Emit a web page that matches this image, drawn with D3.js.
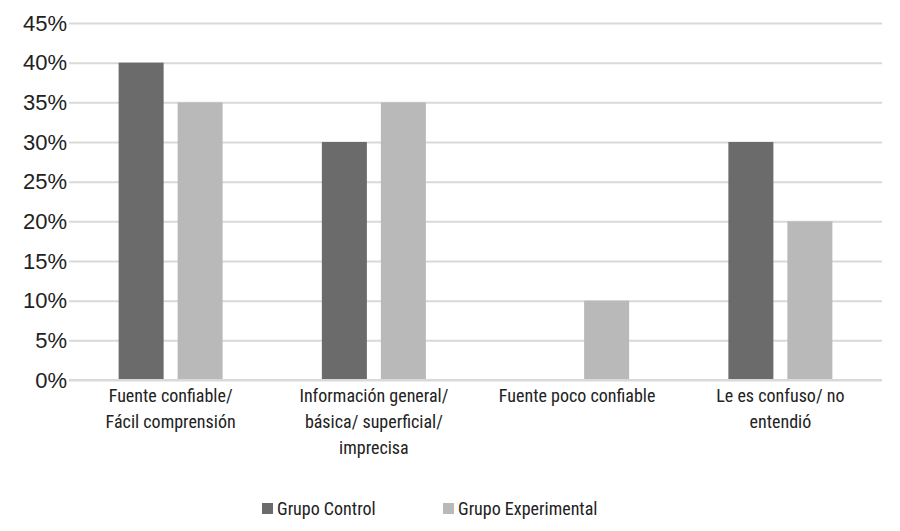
<!DOCTYPE html>
<html><head><meta charset="utf-8">
<script src="https://cdn.jsdelivr.net/npm/d3@7"></script>
<style>
body{margin:0;background:#fff}
text{font-family:"Liberation Sans Narrow","Roboto Condensed","Liberation Sans",sans-serif;fill:#222}
</style></head><body>
<svg id="c" width="900" height="531"></svg>
<script>
// chart values
const categories = [
  ["Fuente confiable/", "Fácil comprensión"],
  ["Información general/", "básica/ superficial/", "imprecisa"],
  ["Fuente poco confiable"],
  ["Le es confuso/ no", "entendió"]
];
const series = ["Grupo Control", "Grupo Experimental"];
const control = [40, 30, 0, 30];
const experimental = [35, 35, 10, 20];
const ticks = [0, 5, 10, 15, 20, 25, 30, 35, 40, 45];
const colors = ["#6b6b6b", "#b9b9b9"];

const svg = d3.select("#c");
const catIds = categories.map((c, i) => i);
const x0 = d3.scaleBand().domain(catIds).range([69, 882]);
const x1 = d3.scaleBand().domain(series).range([-52, 52]).paddingInner(0.237);
const y = d3.scaleLinear().domain([0, 45]).range([380, 23]);

// gridlines + tick labels
const yAxis = svg.append("g").attr("transform", "translate(69,0)")
  .call(d3.axisLeft(y).tickValues(ticks).tickSize(-813).tickFormat(d => d + "%"));
yAxis.select(".domain").remove();
yAxis.selectAll(".tick line").attr("stroke", "#d9d9d9").attr("stroke-width", 2);
yAxis.selectAll(".tick text").attr("x", -2).attr("font-size", 22).attr("fill", "#222")
  .style("font-family", "'Liberation Sans Narrow',sans-serif");

// bars
const rows = catIds.map(i => [control[i], experimental[i]]);
const groups = svg.append("g").selectAll("g").data(rows).enter().append("g")
  .attr("transform", (d, i) => `translate(${x0(i) + x0.bandwidth() / 2},0)`);
groups.selectAll("rect").data(d => d.map((v, j) => ({ v, s: series[j], j })))
  .enter().filter(d => d.v > 0).append("rect")
  .attr("x", d => x1(d.s)).attr("width", x1.bandwidth())
  .attr("y", d => y(d.v)).attr("height", d => y(0) - y(d.v))
  .attr("fill", d => colors[d.j]);

// baseline
svg.append("line").attr("x1", 69).attr("x2", 882).attr("y1", y(0)).attr("y2", y(0))
  .attr("stroke", "#d9d9d9").attr("stroke-width", 2);

// category labels
const lab = svg.append("g").selectAll("text").data(categories).enter().append("text")
  .attr("text-anchor", "middle").attr("font-size", 18)
  .attr("transform", (d, i) => `translate(${x0(i) + x0.bandwidth() / 2},402)`);
lab.selectAll("tspan").data(d => d).enter().append("tspan")
  .attr("x", 0).attr("dy", (d, i) => i ? 26 : 0).text(d => d);

// legend
const lx = [262, 443];
const leg = svg.append("g").selectAll("g").data(series).enter().append("g")
  .attr("transform", (d, i) => `translate(${lx[i]},502)`);
leg.append("rect").attr("width", 11).attr("height", 11).attr("y", 1).attr("fill", (d, i) => colors[i]);
leg.append("text").attr("x", 15).attr("y", 13).attr("font-size", 18).text(d => d);
</script></body></html>
